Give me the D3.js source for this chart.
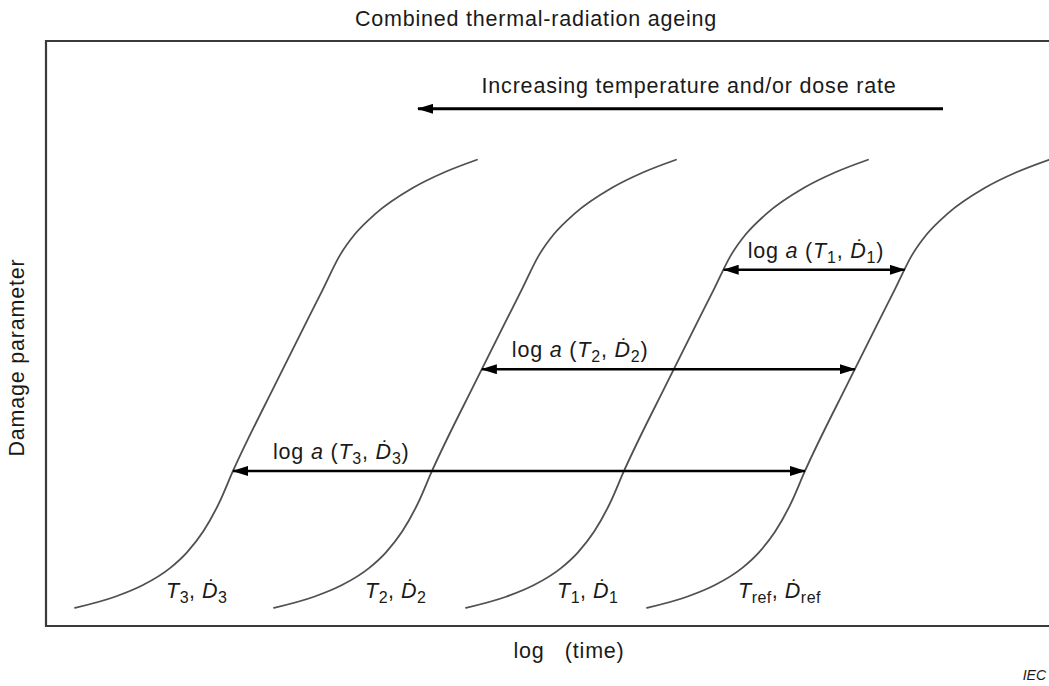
<!DOCTYPE html>
<html>
<head>
<meta charset="utf-8">
<script src="https://cdn.jsdelivr.net/npm/d3@7"></script>
<style>
  html, body { margin: 0; padding: 0; background: #fff; }
  svg { display: block; }
  text { font-family: "Liberation Sans", Arial, "DejaVu Sans", sans-serif; fill: #1a1a1a; }
</style>
</head>
<body>
<svg id="chart" width="1049" height="686"></svg>
<script>
// ---- data ----
const titleText = "Combined thermal-radiation ageing";
const xAxisLabel = "log\u00a0\u00a0\u00a0(time)";
const yAxisLabel = "Damage parameter";
const directionText = "Increasing temperature and/or dose rate";
const sourceText = "IEC";

// master ageing curve: log(time) offset from curve start vs damage parameter
const baseLogTime = [0, 0.40, 0.68, 0.95, 1.12, 1.28, 1.44, 1.58, 2.02, 2.48, 2.65, 2.80, 3.00, 3.38, 3.70, 4.02];
const baseDamage  = [3.1, 5.0, 7.0, 9.9, 12.6, 16.1, 21.0, 26.5, 41.9, 57.6, 63.4, 67.0, 70.4, 74.9, 77.6, 79.7];

// curves: conditions and their log-time starting shifts
const curveTemps = ["3", "2", "1", "ref"];
const curveShifts = [0.29, 2.28, 4.20, 6.01];

// shift-factor arrows: damage level, curve index arrow starts on (ends on reference curve)
const shiftCurveIndex = [2, 1, 0];
const shiftDamage = [60.9, 43.9, 26.5];

// direction arrow: log-time tail, head; damage level
const directionLogTime = [8.97, 3.72];
const directionDamage = 88.4;

// ---- layout ----
const svg = d3.select("#chart");
const x = d3.scaleLinear().domain([0, 10]).range([46, 1046]);
const y = d3.scaleLinear().domain([0, 100]).range([626, 41]);
const fs = 21.5, subFs = 16;

// frame (right side runs off the page)
svg.append("path")
  .attr("d", `M${x(11)},${y(100)} H${x(0)} V${y(0)} H${x(11)}`)
  .attr("fill", "none").attr("stroke", "#3a3a3a").attr("stroke-width", 2.2);

// markers
const defs = svg.append("defs");
function marker(id, orient) {
  defs.append("marker").attr("id", id)
    .attr("viewBox", "0 0 16 10").attr("refX", 15).attr("refY", 5)
    .attr("markerWidth", 16).attr("markerHeight", 10)
    .attr("markerUnits", "userSpaceOnUse").attr("orient", orient)
    .append("path").attr("d", "M0,0 L16,5 L0,10 Z").attr("fill", "#000");
}
marker("arrEnd", "auto");
marker("arrStart", "auto-start-reverse");

// curves
const line = d3.line().x(d => x(d[0])).y(d => y(d[1])).curve(d3.curveMonotoneX);
const curveG = svg.append("g");
curveShifts.forEach((s, i) => {
  const pts = baseLogTime.map((t, k) => [t + s, baseDamage[k]]);
  curveG.append("path").attr("d", line(pts))
    .attr("fill", "none").attr("stroke", "#505050").attr("stroke-width", 1.8)
    .attr("stroke-linecap", "round");
});

// inverse of master curve (damage -> log-time offset)
const inv = d3.scaleLinear().domain(baseDamage).range(baseLogTime);

// shift arrows and labels
shiftDamage.forEach((dmg, i) => {
  const c = shiftCurveIndex[i];
  const x1 = x(curveShifts[c] + inv(dmg));
  const x2 = x(curveShifts[3] + inv(dmg));
  const yy = y(dmg);
  svg.append("line").attr("x1", x1).attr("x2", x2).attr("y1", yy).attr("y2", yy)
    .attr("stroke", "#000").attr("stroke-width", 2.6)
    .attr("marker-start", "url(#arrStart)").attr("marker-end", "url(#arrEnd)");
  const lab = svg.append("text").attr("x", x1 + [24, 30, 40][i]).attr("y", yy - 12)
    .attr("font-size", fs).attr("letter-spacing", 0.8);
  lab.append("tspan").text("log ");
  lab.append("tspan").attr("font-style", "italic").text("a");
  lab.append("tspan").text(" (");
  lab.append("tspan").attr("font-style", "italic").text("T");
  lab.append("tspan").attr("font-size", subFs).attr("dy", 5).text(curveTemps[c]);
  lab.append("tspan").attr("dy", -5).text(", ");
  lab.append("tspan").attr("font-style", "italic").text("\u1E0A");
  lab.append("tspan").attr("font-size", subFs).attr("dy", 5).text(curveTemps[c]);
  lab.append("tspan").attr("dy", -5).text(")");
});

// curve labels
curveShifts.forEach((s, i) => {
  const sub = curveTemps[i];
  const lab = svg.append("text").attr("x", x(s + 0.91)).attr("y", 598)
    .attr("font-size", fs).attr("letter-spacing", 0.5);
  lab.append("tspan").attr("font-style", "italic").text("T");
  lab.append("tspan").attr("font-size", subFs).attr("dy", 5).text(sub);
  lab.append("tspan").attr("dy", -5).text(", ");
  lab.append("tspan").attr("font-style", "italic").text("\u1E0A");
  lab.append("tspan").attr("font-size", subFs).attr("dy", 5).text(sub);
});

// direction arrow
svg.append("line")
  .attr("x1", x(directionLogTime[0])).attr("x2", x(directionLogTime[1]))
  .attr("y1", y(directionDamage)).attr("y2", y(directionDamage))
  .attr("stroke", "#000").attr("stroke-width", 3)
  .attr("marker-end", "url(#arrEnd)");
svg.append("text").attr("x", 689).attr("y", 93).attr("text-anchor", "middle")
  .attr("font-size", fs).attr("letter-spacing", 0.8).text(directionText);

// title
svg.append("text").attr("x", 536).attr("y", 26).attr("text-anchor", "middle")
  .attr("font-size", fs).attr("letter-spacing", 0.8).text(titleText);

// axis labels
svg.append("text").attr("x", 569).attr("y", 658).attr("text-anchor", "middle")
  .attr("font-size", fs).attr("letter-spacing", 0.8).text(xAxisLabel);
svg.append("text").attr("transform", `translate(24,${(y(0) + y(100)) / 2 + 24}) rotate(-90)`)
  .attr("text-anchor", "middle").attr("font-size", fs).attr("letter-spacing", 0.8)
  .text(yAxisLabel);

// source tag
svg.append("text").attr("x", 1046).attr("y", 680).attr("text-anchor", "end")
  .attr("font-size", 14).attr("font-style", "italic").text(sourceText);
</script>
</body>
</html>
